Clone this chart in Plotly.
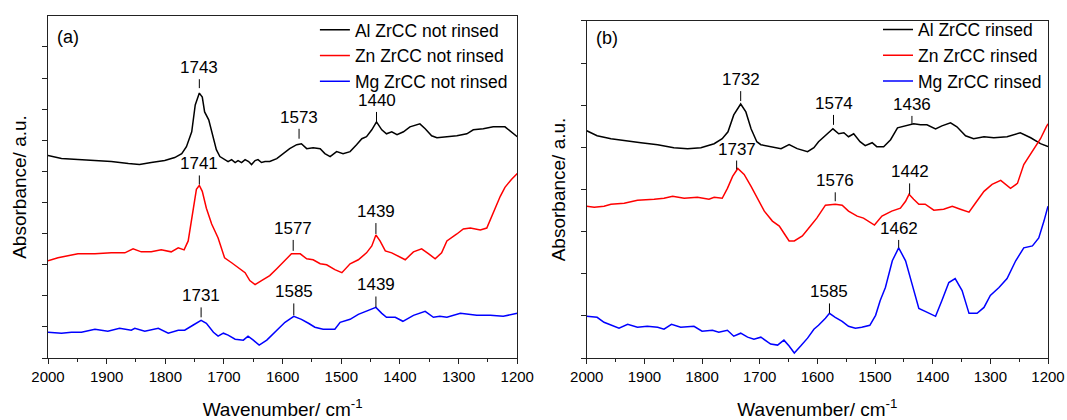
import plotly.graph_objects as go

# ---------------- data (absorbance in arbitrary units) ----------------
# Panel (a): not rinsed
a_al_wn = [2000,1977,1949,1920,1892,1863,1844,1824,1801,1784,1772,1764,1755,1749,1742,1737,1733,1726,1718,1713,1707,1699,1693,1687,1681,1676,1670,1664,1658,1653,1647,1642,1636,1630,1622,1610,1599,1588,1576,1568,1559,1548,1536,1528,1519,1508,1497,1485,1474,1465,1457,1448,1440,1431,1423,1414,1405,1394,1383,1366,1357,1346,1337,1320,1303,1286,1275,1258,1241,1221,1210,1200]
a_al_ab = [204,201,200,199,198,196,195,197,199,202,206,213,228,255,267,263,248,240,221,210,203,200,198,200,197,199,197,200,198,195,199,200,197,198,198,201,206,211,215,216,211,212,211,206,203,208,206,208,215,221,223,230,238,230,226,228,225,228,233,236,231,224,222,223,224,226,230,231,233,233,228,223]

a_zn_wn = [2000,1983,1966,1949,1920,1892,1869,1855,1841,1824,1807,1790,1778,1768,1761,1753,1747,1742,1737,1730,1721,1710,1699,1687,1676,1664,1656,1647,1636,1622,1610,1596,1585,1570,1559,1548,1536,1525,1511,1499,1485,1471,1457,1448,1441,1434,1425,1414,1403,1391,1377,1363,1351,1340,1329,1320,1303,1292,1280,1263,1252,1241,1229,1221,1210,1200]
a_zn_ab = [98,101,103,105,105,106,106,110,107,107,109,107,111,109,118,148,170,174,168,151,135,121,101,96,91,86,78,74,78,83,90,98,105,105,100,99,95,94,89,86,95,99,106,113,124,118,108,106,103,99,107,110,105,100,106,118,125,130,131,129,131,146,163,172,180,186]

a_mg_wn = [2000,1977,1960,1943,1920,1898,1878,1858,1852,1835,1812,1795,1778,1767,1753,1739,1730,1718,1710,1701,1693,1681,1667,1659,1650,1640,1627,1622,1610,1596,1581,1568,1556,1545,1531,1511,1502,1485,1471,1457,1441,1431,1423,1408,1395,1377,1357,1343,1332,1320,1297,1269,1246,1224,1200]
a_mg_ab = [26,25,26,26,29,27,30,28,30,27,30,25,28,28,33,38,35,26,22,25,23,19,18,22,18,13,18,21,28,36,42,39,35,31,29,29,36,39,44,47,51,45,41,41,37,43,47,41,42,41,45,43,43,42,45]

# Panel (b): rinsed
b_al_wn = [2000,1982,1958,1935,1906,1877,1849,1825,1802,1779,1765,1755,1745,1733,1724,1715,1705,1698,1680,1663,1649,1635,1617,1606,1598,1583,1573,1563,1554,1546,1537,1526,1517,1505,1497,1485,1473,1461,1447,1433,1421,1410,1395,1384,1369,1358,1343,1329,1311,1294,1271,1248,1230,1213,1200]
b_al_ab = [229,224,221,219,217,215,212,211,212,216,221,228,245,256,248,231,218,215,213,211,215,211,208,212,218,226,231,226,227,223,226,218,214,217,213,213,220,232,234,236,235,235,231,234,237,233,224,221,223,222,223,227,222,216,213]

b_zn_wn = [2000,1987,1970,1958,1935,1912,1883,1866,1851,1831,1808,1788,1779,1765,1756,1747,1738,1727,1715,1704,1692,1678,1666,1657,1649,1640,1626,1612,1601,1586,1569,1557,1546,1531,1520,1501,1488,1471,1456,1447,1441,1433,1424,1413,1398,1381,1366,1352,1337,1326,1311,1297,1282,1265,1253,1242,1227,1213,1203,1200]
b_zn_ab = [153,152,153,155,156,159,160,161,163,161,162,160,162,161,171,183,191,185,173,161,148,138,133,125,118,118,123,133,141,154,155,154,148,143,141,134,143,148,151,158,165,160,155,155,149,150,153,150,147,156,168,175,179,171,176,195,208,221,233,236]

b_mg_wn = [2000,1982,1970,1953,1944,1929,1912,1895,1877,1866,1853,1837,1814,1800,1782,1771,1756,1745,1733,1721,1710,1698,1690,1681,1669,1658,1649,1640,1629,1617,1606,1598,1586,1579,1569,1557,1546,1534,1523,1509,1499,1491,1482,1470,1459,1447,1436,1424,1413,1395,1384,1372,1361,1349,1337,1323,1311,1300,1285,1271,1256,1242,1227,1216,1207,1203,1200]
b_mg_ab = [42,41,36,32,30,34,31,32,31,29,34,31,32,27,28,26,28,22,25,21,19,21,18,14,13,18,12,5,12,20,29,33,40,45,41,37,32,30,31,33,43,58,71,98,111,98,75,50,47,42,58,76,80,68,45,45,51,63,71,80,98,111,113,121,138,147,153]

series_a = [("Al ZrCC not rinsed", a_al_wn, a_al_ab),
            ("Zn ZrCC not rinsed", a_zn_wn, a_zn_ab),
            ("Mg ZrCC not rinsed", a_mg_wn, a_mg_ab)]
series_b = [("Al ZrCC rinsed", b_al_wn, b_al_ab),
            ("Zn ZrCC rinsed", b_zn_wn, b_zn_ab),
            ("Mg ZrCC rinsed", b_mg_wn, b_mg_ab)]
colors = ["#000000", "#ff0000", "#0000ff"]

# peak labels: text, wavenumber, marker bottom, marker top
peaks_a_text = ["1743", "1573", "1440", "1741", "1577", "1439", "1731", "1585", "1439"]
peaks_a_wn   = [1742, 1572, 1440, 1742, 1582, 1441, 1739, 1581, 1441]
peaks_a_lo   = [272, 221, 238, 175, 108, 125, 41, 43, 51]
peaks_a_hi   = [281, 231, 248, 184, 119, 136, 51, 55, 62]

peaks_b_text = ["1732", "1574", "1436", "1737", "1576", "1442", "1462", "1585"]
peaks_b_wn   = [1733, 1572, 1436, 1740, 1569, 1440, 1459, 1579]
peaks_b_lo   = [259, 235, 236, 190, 158, 165, 111, 45]
peaks_b_hi   = [269, 245, 244, 199, 167, 176, 119, 55]

x_ticks = [2000, 1900, 1800, 1700, 1600, 1500, 1400, 1300, 1200]

FONT = "Liberation Sans, Arial, sans-serif"

fig = go.Figure()
for (name, wn, ab), c in zip(series_a, colors):
    fig.add_trace(go.Scatter(x=wn, y=ab, mode="lines", name=name,
                             line=dict(color=c, width=1.5),
                             xaxis="x", yaxis="y", legend="legend"))
for (name, wn, ab), c in zip(series_b, colors):
    fig.add_trace(go.Scatter(x=wn, y=ab, mode="lines", name=name,
                             line=dict(color=c, width=1.5),
                             xaxis="x2", yaxis="y2", legend="legend2"))

shapes = []
annots = []
for txt, wn, lo, hi in zip(peaks_a_text, peaks_a_wn, peaks_a_lo, peaks_a_hi):
    shapes.append(dict(type="line", xref="x", yref="y", x0=wn, x1=wn, y0=lo, y1=hi,
                       line=dict(color="#000", width=1)))
    annots.append(dict(text=txt, x=wn, y=hi, xref="x", yref="y", showarrow=False,
                       yanchor="bottom", xanchor="center", font=dict(size=17, color="#000")))
for txt, wn, lo, hi in zip(peaks_b_text, peaks_b_wn, peaks_b_lo, peaks_b_hi):
    shapes.append(dict(type="line", xref="x2", yref="y2", x0=wn, x1=wn, y0=lo, y1=hi,
                       line=dict(color="#000", width=1)))
    annots.append(dict(text=txt, x=wn, y=hi, xref="x2", yref="y2", showarrow=False,
                       yanchor="bottom", xanchor="center", font=dict(size=17, color="#000")))

annots.append(dict(text="(a)", x=0.042, y=0.94, xref="x domain", yref="y domain",
                   xanchor="center", yanchor="middle",
                   showarrow=False, font=dict(size=18, color="#000")))
annots.append(dict(text="(b)", x=0.044, y=0.949, xref="x2 domain", yref="y2 domain",
                   xanchor="center", yanchor="middle",
                   showarrow=False, font=dict(size=18, color="#000")))

xcommon = dict(range=[2000, 1200], tickvals=x_ticks, ticks="outside", ticklen=5,
               tickcolor="#222", minor=dict(dtick=50, ticks="outside", ticklen=3, tickcolor="#222"),
               showline=True, mirror=True, linecolor="#222", linewidth=1,
               showgrid=False, zeroline=False, automargin=False,
               tickfont=dict(size=15, color="#000"),
               title=dict(text="Wavenumber/ cm<sup>-1</sup>", font=dict(size=19, color="#000"), standoff=19))
ycommon = dict(showticklabels=False, ticks="outside", ticklen=5, tickcolor="#222",
               showline=True, mirror=True, linecolor="#222", linewidth=1,
               showgrid=False, zeroline=False, automargin=False,
               title=dict(text="Absorbance/ a.u.", font=dict(size=19, color="#000"), standoff=10))

fig.update_layout(
    width=1067, height=420,
    margin=dict(l=48.3, r=19.3, t=13.3, b=62),
    paper_bgcolor="white", plot_bgcolor="white",
    font=dict(family=FONT, color="#000"),
    xaxis=dict(domain=[0, 0.46928], anchor="y", **xcommon),
    xaxis2=dict(domain=[0.53873, 1], anchor="y2", **xcommon),
    yaxis=dict(domain=[0, 1], anchor="x", range=[0, 344.7], tick0=0, dtick=31.35, **ycommon),
    yaxis2=dict(domain=[0, 0.98549], anchor="x2", range=[0, 339.7], tick0=0, dtick=42.46, **ycommon),
    legend=dict(x=0.2669, y=1.012, xanchor="left", yanchor="top", bgcolor="rgba(0,0,0,0)",
                font=dict(size=17.5, color="#000"), tracegroupgap=0),
    legend2=dict(x=0.830, y=1.0125, xanchor="left", yanchor="top", bgcolor="rgba(0,0,0,0)",
                 font=dict(size=17.5, color="#000"), tracegroupgap=0),
    shapes=shapes, annotations=annots, showlegend=True,
)

fig.write_html("out.html", config={"displayModeBar": False},
               post_script="document.body.style.margin='0px';")
